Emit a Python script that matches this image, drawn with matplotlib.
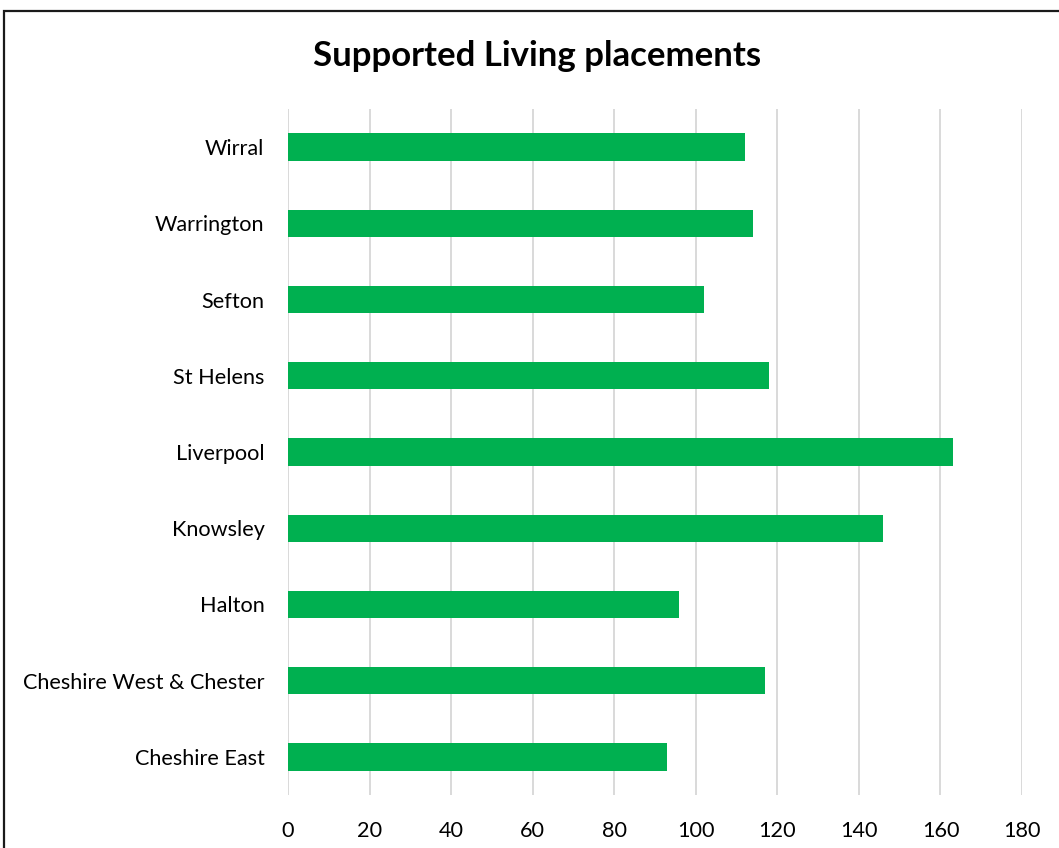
import matplotlib
matplotlib.use("Agg")
import matplotlib.pyplot as plt
from matplotlib.patches import Rectangle

# Supported Living placements by local authority (bottom to top)
authorities = ["Cheshire East", "Cheshire West & Chester", "Halton", "Knowsley",
               "Liverpool", "St Helens", "Sefton", "Warrington", "Wirral"]
placements = [93, 117, 96, 146, 163, 118, 102, 114, 112]
x_ticks = [0, 20, 40, 60, 80, 100, 120, 140, 160, 180]

W, H = 1059, 848
fig = plt.figure(figsize=(W / 100, H / 100), dpi=100)
fig.patch.set_facecolor("white")

# Chart-area frame (runs off the right and bottom edges)
fig.patches.append(Rectangle((4 / W, -0.2), 1.3, 1 - 10.5 / H + 0.2,
                             transform=fig.transFigure, fill=False,
                             edgecolor="#1a1a1a", linewidth=1.6, clip_on=False))

ax = fig.add_axes([288 / W, 1 - 795 / H, (1022 - 288) / W, (795 - 109) / H])
ypos = range(len(authorities))
ax.barh(ypos, placements, height=0.36, color="#00B050", zorder=3)

ax.set_xlim(0, 180)
ax.set_ylim(-0.5, len(authorities) - 0.5)
ax.set_xticks(x_ticks)
ax.set_xticklabels([str(t) for t in x_ticks])
ax.set_yticks(list(ypos))
ax.set_yticklabels(authorities)

ax.grid(axis="x", color="#D9D9D9", linewidth=1.4, zorder=0)
for s in ax.spines.values():
    s.set_visible(False)
ax.tick_params(axis="both", length=0, labelsize=15.6, colors="#000000")
ax.tick_params(axis="y", pad=17)
ax.tick_params(axis="x", pad=19)
for lbl in ax.get_xticklabels() + ax.get_yticklabels():
    lbl.set_fontfamily("Lato")

fig.text(537 / W, 1 - 56 / H, "Supported Living placements", ha="center",
         va="center", fontsize=25, fontweight="bold", fontfamily="Lato")

fig.savefig("out.png", dpi=100)
